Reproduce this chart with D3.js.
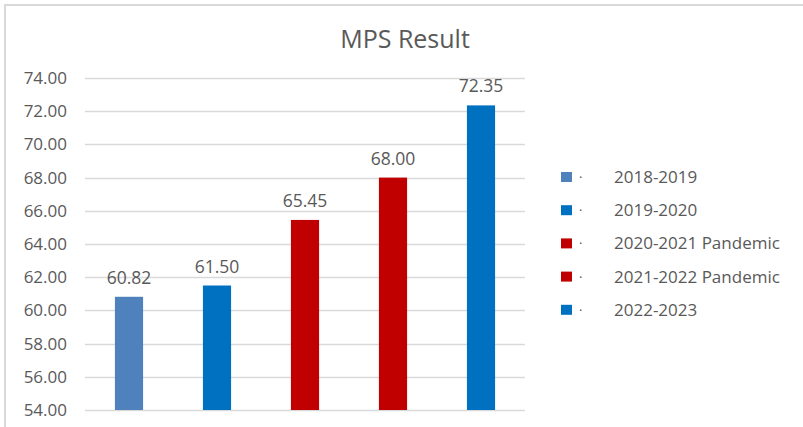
<!DOCTYPE html>
<html>
<head>
<meta charset="utf-8">
<script src="https://cdn.jsdelivr.net/npm/d3@7"></script>
<style>
  html, body { margin: 0; padding: 0; background: #fff; }
  svg { display: block; }
</style>
</head>
<body>
<svg id="chart" width="803" height="427"></svg>
<script>
// MPS results per school year
const categories = ["2018-2019", "2019-2020", "2020-2021 Pandemic", "2021-2022 Pandemic", "2022-2023"];
const values = [60.82, 61.50, 65.45, 68.00, 72.35];
const colors = ["#4F81BD", "#0070C0", "#C00000", "#C00000", "#0070C0"];
const yTicks = [54, 56, 58, 60, 62, 64, 66, 68, 70, 72, 74];

const svg = d3.select("#chart");
const font = "'Open Sans', 'Noto Sans', sans-serif";
const textColor = "#595959";

// Frame lines (top and left edge of chart area)
svg.append("line").attr("x1", 4).attr("x2", 803).attr("y1", 5).attr("y2", 5)
  .attr("stroke", "#d9d9d9").attr("stroke-width", 2);
svg.append("line").attr("x1", 5).attr("x2", 5).attr("y1", 4).attr("y2", 427)
  .attr("stroke", "#d9d9d9").attr("stroke-width", 2);

// Title
svg.append("text")
  .attr("x", 405).attr("y", 48)
  .attr("text-anchor", "middle")
  .attr("font-family", font).attr("font-size", 25)
  .attr("fill", textColor)
  .text("MPS Result");

const plot = { left: 85, right: 525, top: 78, bottom: 410 };

const x = d3.scaleBand()
  .domain(categories)
  .range([plot.left, plot.right])
  .paddingInner(0.68).paddingOuter(0.34);

const y = d3.scaleLinear()
  .domain([54, 74])
  .range([plot.bottom, plot.top]);

// Gridlines
svg.append("g").selectAll("line")
  .data(yTicks).join("line")
  .attr("x1", plot.left).attr("x2", plot.right)
  .attr("y1", d => Math.round(y(d)) + 0.5).attr("y2", d => Math.round(y(d)) + 0.5)
  .attr("stroke", "#d9d9d9").attr("stroke-width", 1.3);

// Y axis labels
const yAxis = d3.axisLeft(y).tickValues(yTicks).tickFormat(d3.format(".2f")).tickSize(0).tickPadding(0);
const yg = svg.append("g").attr("transform", `translate(${67},0)`).call(yAxis);
yg.select(".domain").remove();
yg.selectAll("text")
  .attr("font-family", font).attr("font-size", 17)
  .attr("fill", textColor);

// Bars
svg.append("g").selectAll("rect")
  .data(values).join("rect")
  .attr("x", (d, i) => x(categories[i]))
  .attr("width", x.bandwidth())
  .attr("y", d => y(d))
  .attr("height", d => y(54) - y(d))
  .attr("fill", (d, i) => colors[i]);

// Value labels
svg.append("g").selectAll("text")
  .data(values).join("text")
  .attr("x", (d, i) => x(categories[i]) + x.bandwidth() / 2)
  .attr("y", d => y(d) - 13)
  .attr("text-anchor", "middle")
  .attr("font-family", font).attr("font-size", 17.5)
  .attr("fill", textColor)
  .text(d => d3.format(".2f")(d));

// Legend
const legend = svg.append("g").selectAll("g")
  .data(categories).join("g")
  .attr("transform", (d, i) => `translate(561,${177 + i * 33.2})`);
legend.append("rect")
  .attr("x", 0).attr("y", -5).attr("width", 11).attr("height", 10)
  .attr("fill", (d, i) => colors[i]);
legend.append("text")
  .attr("x", 18).attr("y", 5)
  .attr("font-family", font).attr("font-size", 13)
  .attr("fill", textColor)
  .text("·");
legend.append("text")
  .attr("x", 53).attr("y", 6)
  .attr("font-family", font).attr("font-size", 17)
  .attr("fill", textColor)
  .text(d => d);
</script>
</body>
</html>
